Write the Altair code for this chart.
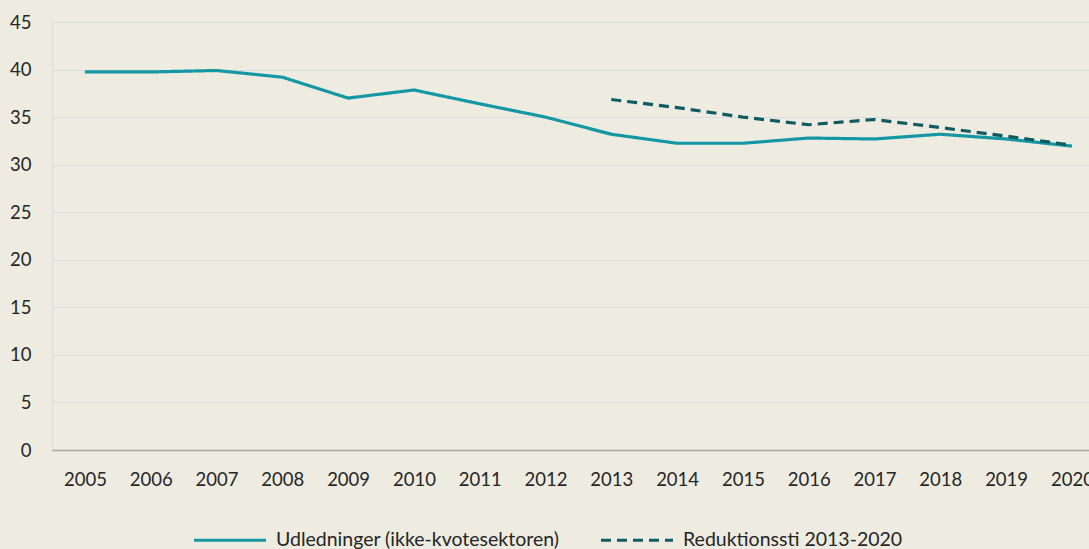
import altair as alt
import pandas as pd
import jinja2

years = list(range(2005, 2021))
udledninger = [39.75, 39.75, 39.9, 39.2, 37.0, 37.85, 36.4, 35.0, 33.2, 32.25, 32.25, 32.8, 32.7, 33.2, 32.7, 31.95]
red_years = list(range(2013, 2021))
reduktion = [36.85, 36.0, 35.0, 34.2, 34.75, 33.9, 33.0, 32.05]

s1 = "Udledninger (ikke-kvotesektoren)"
s2 = "Reduktionssti 2013-2020"

rows = [{"year": y, "value": v, "series": s1} for y, v in zip(years, udledninger)]
rows += [{"year": y, "value": v, "series": s2} for y, v in zip(red_years, reduktion)]
df = pd.DataFrame(rows)

FONT = "Lato"
TXT = "#262626"
BG = "#EEEBE1"


def legend():
    return alt.Legend(title=None, orient="none", legendX=140, legendY=480,
                      direction="horizontal", symbolType="stroke",
                      symbolSize=5184, symbolStrokeWidth=3.2,
                      labelFontSize=19.5, labelFont=FONT, labelColor=TXT,
                      labelOffset=8, columnPadding=34, padding=0, labelLimit=400)


chart = alt.Chart(df).mark_line(strokeWidth=3.2, clip=True).encode(
    x=alt.X("year:Q", scale=alt.Scale(domain=[2004.5, 2020.26], nice=False, zero=False),
            axis=alt.Axis(values=years, format="d", title=None, grid=False, ticks=False,
                          domain=True, domainColor="#A6A6A6", domainWidth=1.5,
                          labelPadding=20, labelFontSize=18.5, labelFont=FONT, labelColor=TXT,
                          labelFlush=False, labelOverlap=False)),
    y=alt.Y("value:Q", scale=alt.Scale(domain=[0, 45], nice=False),
            axis=alt.Axis(values=list(range(0, 50, 5)), title=None, ticks=False, domain=False,
                          grid=True, gridColor="#D9DCE3", gridWidth=1.2,
                          labelPadding=21, labelFontSize=18.5, labelFont=FONT, labelColor=TXT)),
    color=alt.Color("series:N", scale=alt.Scale(domain=[s1, s2], range=["#1597A4", "#0F5B62"]),
                    legend=legend()),
    strokeDash=alt.StrokeDash("series:N", scale=alt.Scale(domain=[s1, s2], range=[[1, 0], [10, 6]]),
                              legend=legend()),
).properties(
    width=1037, height=428,
    autosize=alt.AutoSizeParams(type="none"),
    padding={"left": 52, "top": 22, "right": 0, "bottom": 99},
    background=BG,
).configure_view(stroke=None).configure(font=FONT)

TEMPLATE = jinja2.Template("""<!DOCTYPE html>
<html>
<head>
<meta charset="utf-8">
<style>html, body { margin: 0; padding: 0; background: """ + BG + """; overflow: hidden; }</style>
<script type="text/javascript" src="{{ base_url }}/vega@{{ vega_version }}"></script>
<script type="text/javascript" src="{{ base_url }}/vega-lite@{{ vegalite_version }}"></script>
<script type="text/javascript" src="{{ base_url }}/vega-embed@{{ vegaembed_version }}"></script>
</head>
<body>
<div id="{{ output_div }}"></div>
<script>
vegaEmbed("#{{ output_div }}", {{ spec }}, {{ embed_options }}).catch(console.error);
</script>
</body>
</html>
""")

chart.save("out.html", embed_options={"renderer": "svg", "actions": False}, template=TEMPLATE)
